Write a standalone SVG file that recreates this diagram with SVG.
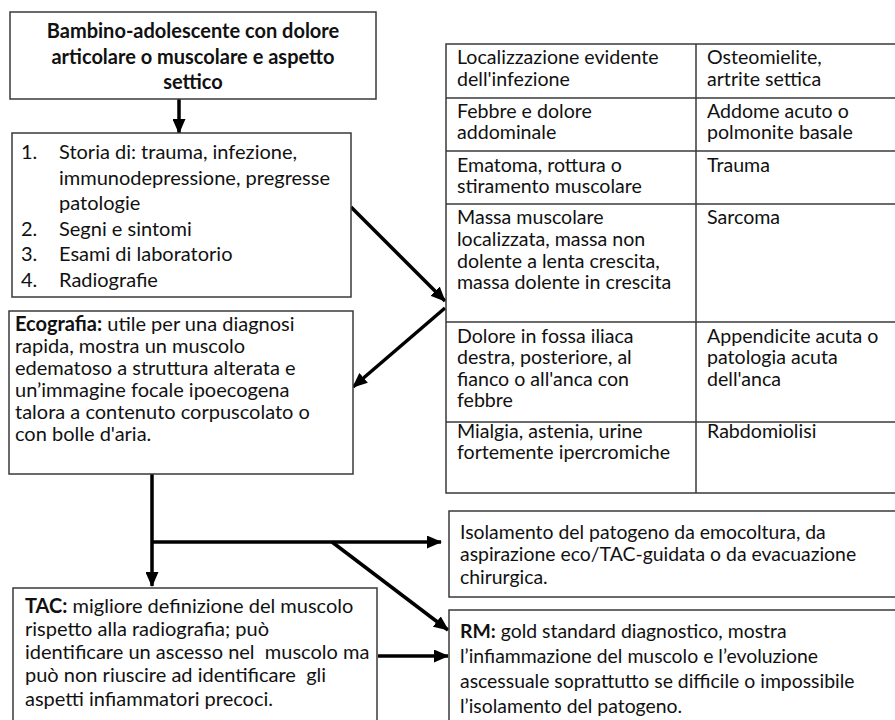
<svg xmlns="http://www.w3.org/2000/svg" width="895" height="720" viewBox="0 0 895 720">
<defs>
<style>
.box{fill:#fff;stroke:#3a3a3a;stroke-width:1.5}
.tl{stroke:#3a3a3a;stroke-width:1.5;fill:none}
.t{font-family:Lato,"Liberation Sans",sans-serif;font-size:20px;fill:#111;white-space:pre}
.tt{font-family:Lato,"Liberation Sans",sans-serif;font-size:19.6px;fill:#111}
.tr{font-family:Lato,"Liberation Sans",sans-serif;font-size:19.4px;fill:#111}
.b{font-weight:bold}
.c{stroke:#000;stroke-width:3.5;fill:none}
</style>
<marker id="ah" markerUnits="userSpaceOnUse" markerWidth="15" markerHeight="13" viewBox="0 0 15 13" refX="14" refY="6.5" orient="auto">
<path d="M0,0 L15,6.5 L0,13 Z" fill="#000"/>
</marker>
</defs>
<rect width="895" height="720" fill="#fff"/>

<g id="connectors">
<line class="c" x1="179" y1="99" x2="179" y2="133" marker-end="url(#ah)"/>
<line class="c" x1="351" y1="207" x2="445" y2="301" marker-end="url(#ah)"/>
<line class="c" x1="445" y1="308" x2="353" y2="387" marker-end="url(#ah)"/>
<line class="c" x1="152" y1="474" x2="152" y2="586" marker-end="url(#ah)"/>
<line class="c" x1="152" y1="542" x2="441" y2="542" marker-end="url(#ah)"/>
<line class="c" x1="332" y1="542" x2="448" y2="630" marker-end="url(#ah)"/>
<line class="c" x1="378" y1="656" x2="448" y2="656" marker-end="url(#ah)"/>
</g>

<g id="start">
<rect class="box" x="10" y="12" width="366" height="87"/>
<text class="t b" text-anchor="middle" x="193"><tspan x="193" y="38">Bambino-adolescente con dolore</tspan><tspan x="193" y="64">articolare o muscolare e aspetto</tspan><tspan x="193" y="89">settico</tspan></text>
</g>

<g id="valutazione">
<rect class="box" x="12" y="133" width="339" height="164"/>
<text class="t"><tspan x="21" y="159">1.</tspan><tspan x="59" y="159">Storia di: trauma, infezione,</tspan><tspan x="59" y="185">immunodepressione, pregresse</tspan><tspan x="59" y="210">patologie</tspan><tspan x="21" y="236">2.</tspan><tspan x="59" y="236">Segni e sintomi</tspan><tspan x="21" y="261">3.</tspan><tspan x="59" y="261">Esami di laboratorio</tspan><tspan x="21" y="287">4.</tspan><tspan x="59" y="287">Radiografie</tspan></text>
</g>

<g id="tabella">
<rect class="tl" x="446" y="44" width="452" height="449"/>
<line class="tl" x1="696" y1="44" x2="696" y2="493"/>
<line class="tl" x1="446" y1="98" x2="898" y2="98"/>
<line class="tl" x1="446" y1="151" x2="898" y2="151"/>
<line class="tl" x1="446" y1="204" x2="898" y2="204"/>
<line class="tl" x1="446" y1="322" x2="898" y2="322"/>
<line class="tl" x1="446" y1="422" x2="898" y2="422"/>
<text class="tt"><tspan x="457" y="64">Localizzazione evidente</tspan><tspan x="457" y="86">dell'infezione</tspan></text>
<text class="tt"><tspan x="707" y="64">Osteomielite,</tspan><tspan x="707" y="86">artrite settica</tspan></text>
<text class="tt"><tspan x="457" y="118">Febbre e dolore</tspan><tspan x="457" y="139">addominale</tspan></text>
<text class="tt"><tspan x="707" y="118">Addome acuto o</tspan><tspan x="707" y="139">polmonite basale</tspan></text>
<text class="tt"><tspan x="457" y="172">Ematoma, rottura o</tspan><tspan x="457" y="193">stiramento muscolare</tspan></text>
<text class="tt"><tspan x="707" y="172">Trauma</tspan></text>
<text class="tt"><tspan x="457" y="224">Massa muscolare</tspan><tspan x="457" y="246">localizzata, massa non</tspan><tspan x="457" y="268">dolente a lenta crescita,</tspan><tspan x="457" y="289">massa dolente in crescita</tspan></text>
<text class="tt"><tspan x="707" y="224">Sarcoma</tspan></text>
<text class="tt"><tspan x="457" y="343">Dolore in fossa iliaca</tspan><tspan x="457" y="364">destra, posteriore, al</tspan><tspan x="457" y="386">fianco o all'anca con</tspan><tspan x="457" y="407">febbre</tspan></text>
<text class="tt"><tspan x="707" y="343">Appendicite acuta o</tspan><tspan x="707" y="364">patologia acuta</tspan><tspan x="707" y="386">dell'anca</tspan></text>
<text class="tt"><tspan x="457" y="438">Mialgia, astenia, urine</tspan><tspan x="457" y="459">fortemente ipercromiche</tspan></text>
<text class="tt"><tspan x="707" y="438">Rabdomiolisi</tspan></text>
</g>

<g id="ecografia">
<rect class="box" x="9" y="311" width="344" height="163"/>
<text class="t"><tspan x="15" y="331"><tspan class="b">Ecografia:</tspan> utile per una diagnosi</tspan><tspan x="15" y="353">rapida, mostra un muscolo</tspan><tspan x="15" y="375">edematoso a struttura alterata e</tspan><tspan x="15" y="397">un’immagine focale ipoecogena</tspan><tspan x="15" y="419">talora a contenuto corpuscolato o</tspan><tspan x="15" y="441">con bolle d'aria.</tspan></text>
</g>

<g id="tac">
<rect class="box" x="13" y="588" width="364" height="140"/>
<text class="t"><tspan x="25" y="613"><tspan class="b">TAC:</tspan> migliore definizione del muscolo</tspan><tspan x="25" y="636">rispetto alla radiografia; può</tspan><tspan x="25" y="659">identificare un ascesso nel  muscolo ma</tspan><tspan x="25" y="682">può non riuscire ad identificare  gli</tspan><tspan x="25" y="706">aspetti infiammatori precoci.</tspan></text>
</g>

<g id="isolamento">
<rect class="box" x="449" y="511" width="450" height="86"/>
<text class="tr"><tspan x="460" y="539">Isolamento del patogeno da emocoltura, da</tspan><tspan x="460" y="561">aspirazione eco/TAC-guidata o da evacuazione</tspan><tspan x="460" y="584">chirurgica.</tspan></text>
</g>

<g id="rm">
<rect class="box" x="449" y="610" width="450" height="120"/>
<text class="tr"><tspan x="460" y="638"><tspan class="b">RM:</tspan> gold standard diagnostico, mostra</tspan><tspan x="460" y="663">l’infiammazione del muscolo e l’evoluzione</tspan><tspan x="460" y="688">ascessuale soprattutto se difficile o impossibile</tspan><tspan x="460" y="713">l’isolamento del patogeno.</tspan></text>
</g>
</svg>
